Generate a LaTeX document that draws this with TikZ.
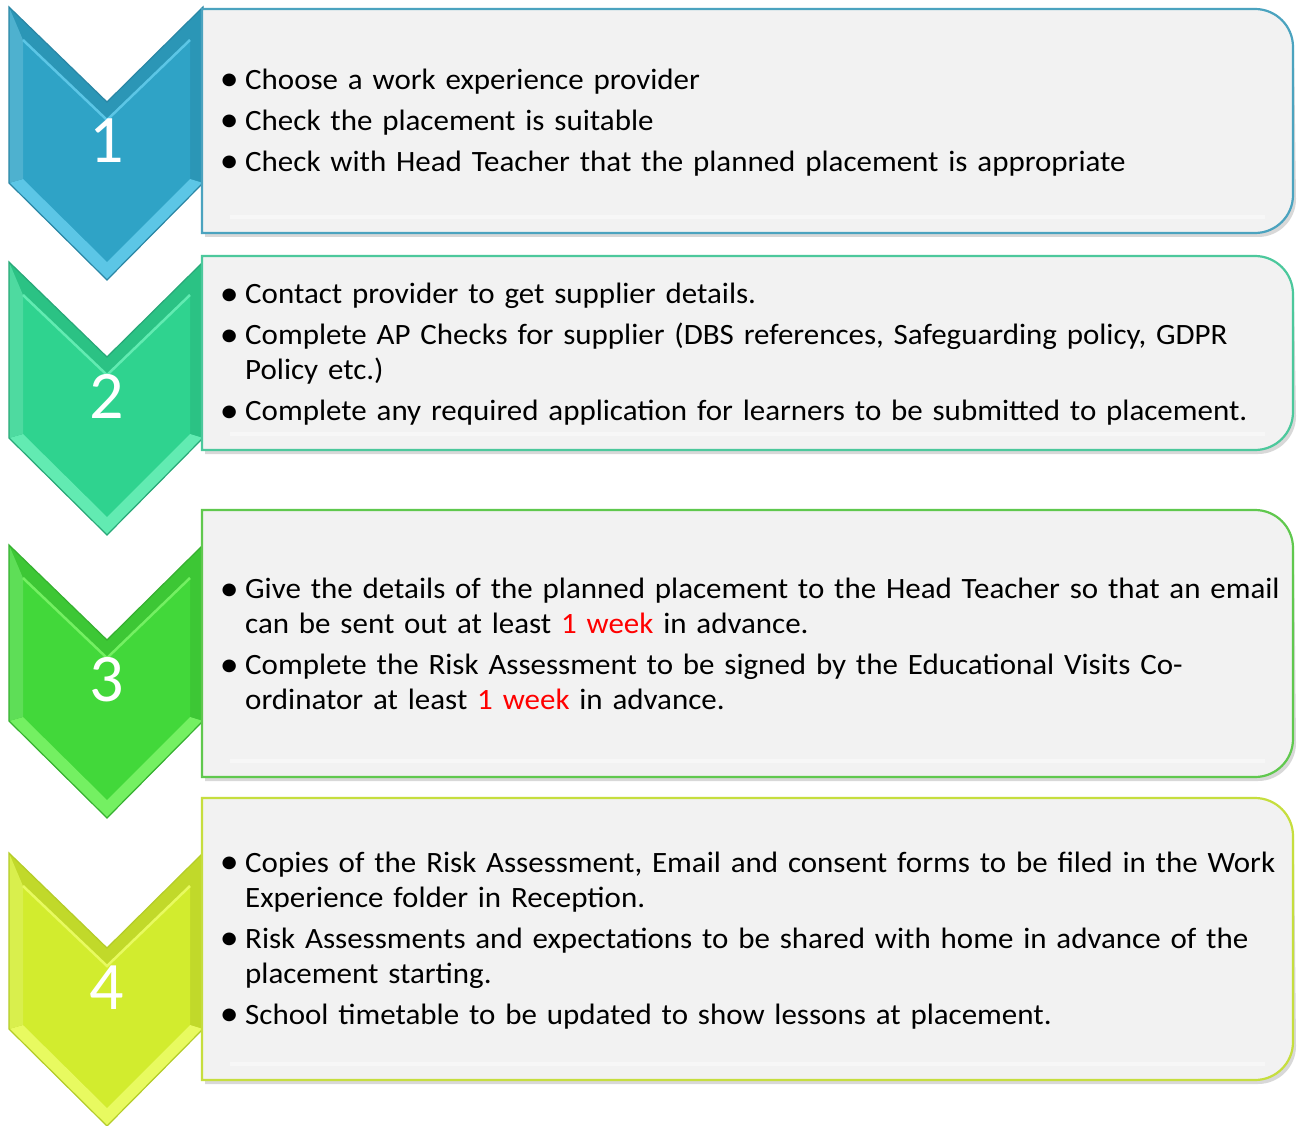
\documentclass[tikz,border=0pt]{standalone}
\usepackage{fontspec}
\setmainfont{Carlito}
\newfontfamily\itemfont{Carlito}[FakeStretch=1.05]
\definecolor{boxfill}{HTML}{F2F2F2}
\definecolor{wkred}{HTML}{FF0000}
\definecolor{cAmain}{HTML}{2FA3C6}\definecolor{cAlight}{HTML}{5CC6E6}\definecolor{cAdark}{HTML}{2A86A5}\definecolor{cAbox}{HTML}{4BA3BF}
\definecolor{cBmain}{HTML}{2FD38F}\definecolor{cBlight}{HTML}{62EBB2}\definecolor{cBdark}{HTML}{28A878}\definecolor{cBbox}{HTML}{4CC89C}
\definecolor{cCmain}{HTML}{42D83A}\definecolor{cClight}{HTML}{74F062}\definecolor{cCdark}{HTML}{36B030}\definecolor{cCbox}{HTML}{60C84E}
\definecolor{cDmain}{HTML}{D2EC2E}\definecolor{cDlight}{HTML}{E8FA60}\definecolor{cDdark}{HTML}{B4CC28}\definecolor{cDbox}{HTML}{C6DE3E}
\newcommand\bitem{\par\hangindent=23pt\hangafter=1\noindent\makebox[23pt][l]{\makebox[14pt]{\raisebox{-0.06em}{\scalebox{1.22}{\textbullet}}}}}
\newcommand\wk{\textcolor{wkred}{1 week}}
% #1 top y, #2 colour prefix, #3 digit, #4 node name
\newcommand\chevron[4]{%
  \begin{scope}[shift={(0,#1)}]
    \fill[#2main!92!black] (9,0) -- (107,95) -- (203,0) -- (203,176) -- (107,273) -- (9,176) -- cycle;
    \fill[#2main] (23,33) -- (107,113) -- (190,33) -- (190,172) -- (107,255) -- (23,172) -- cycle;
    \fill[#2light] (9,176) -- (107,273) -- (203,176) -- (190,172) -- (107,255) -- (23,172) -- cycle;
    \fill[#2main!85!white] (9,0) -- (23,33) -- (23,172) -- (9,176) -- cycle;
    \draw[#2light, line width=2.5] (23,33) -- (107,113) -- (190,33);
    \draw[#2dark, line width=1.2, line join=miter] (9,0) -- (107,95) -- (203,0) -- (203,176) -- (107,273) -- (9,176) -- cycle;
    \node[numtext] (#4) at (107,156) {#3};
  \end{scope}}
% #1 top y, #2 bottom y, #3 colour
\newcommand\stepbox[3]{%
  \fill[black!30, opacity=0.5] (205,#1+4) -- (1256,#1+4) arc[start angle=-90, end angle=0, radius=38] -- (1296,#2-34) arc[start angle=0, end angle=90, radius=38] -- (205,#2+4) -- cycle;
  \filldraw[fill=boxfill, draw=#3, line width=2.2] (202,#1) -- (1255,#1) arc[start angle=-90, end angle=0, radius=38] -- (1293,#2-38) arc[start angle=0, end angle=90, radius=38] -- (202,#2) -- cycle;
  \draw[white, line width=4, opacity=0.45] (230,#2-16) -- (1265,#2-16);}
\begin{document}
\begin{tikzpicture}[x=1pt, y=-1pt,
  numtext/.style={anchor=base, text=white, font=\fontsize{68}{68}\selectfont, inner sep=0},
  itemtext/.style={anchor=west, text width=1070pt, align=left, inner sep=0,
    font=\itemfont\fontsize{29.5}{35}\selectfont\setlength{\parskip}{6pt}}]
\useasboundingbox (0,0) rectangle (1299,1126);
\fill[white] (0,0) rectangle (1299,1126);

\chevron{7}{cA}{1}{c1}
\chevron{262}{cB}{2}{c2}
\chevron{545}{cC}{3}{c3}
\chevron{853}{cD}{4}{c4}

\stepbox{9}{233}{cAbox}
\stepbox{256}{450}{cBbox}
\stepbox{510}{777}{cCbox}
\stepbox{798}{1080}{cDbox}

\node[itemtext] (t1) at (222,112) {%
\bitem Choose a work experience provider
\bitem Check the placement is suitable
\bitem Check with Head Teacher that the planned placement is appropriate\par};

\node[itemtext] (t2) at (222,344) {%
\bitem Contact provider to get supplier details.
\bitem Complete AP Checks for supplier (DBS references, Safeguarding policy, GDPR\newline Policy etc.)
\bitem Complete any required application for learners to be submitted to placement.\par};

\node[itemtext] (t3) at (222,634) {%
\bitem Give the details of the planned placement to the Head Teacher so that an email\newline can be sent out at least \wk{} in advance.
\bitem Complete the Risk Assessment to be signed by the Educational Visits Co-\newline ordinator at least \wk{} in advance.\par};

\node[itemtext] (t4) at (222,930) {%
\bitem Copies of the Risk Assessment, Email and consent forms to be filed in the Work\newline Experience folder in Reception.
\bitem Risk Assessments and expectations to be shared with home in advance of the\newline placement starting.
\bitem School timetable to be updated to show lessons at placement.\par};
\end{tikzpicture}
\end{document}
